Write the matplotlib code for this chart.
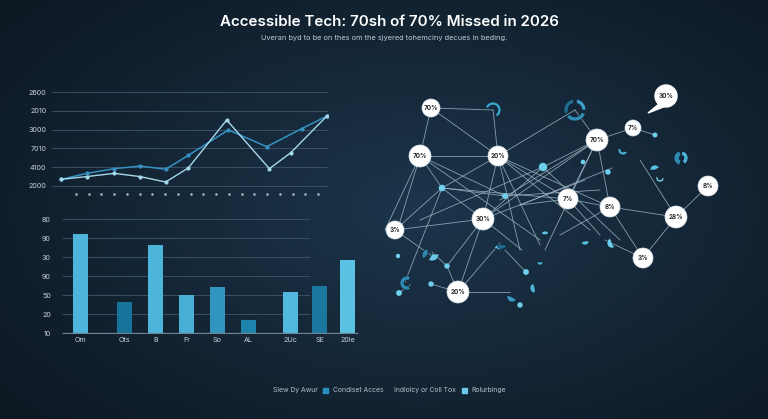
import numpy as np
import matplotlib
matplotlib.use("Agg")
import matplotlib.pyplot as plt
from matplotlib.patches import Circle, Wedge, Polygon, Rectangle

plt.rcParams['font.family'] = ['Inter', 'DejaVu Sans']

W, H = 768, 419

title = "Accessible Tech: 70sh of 70% Missed in 2026"
subtitle = "Uveran byd to be on thes om the sjyered tohemciny decues in beding."

# line chart (y in gridline units)
line_ticks = ["2000", "4100", "7010", "3000", "2010", "2600"]
dot_x = list(range(1, 21))
dark_x = [-0.18, 1.84, 4.01, 6.03, 8.04, 9.82, 12.96, 15.97, 18.72, 20.69]
dark_y = [0.35, 0.67, 0.92, 1.06, 0.89, 1.63, 2.98, 2.09, 3.05, 3.72]
light_x = [-0.18, 1.84, 4.01, 6.03, 8.04, 9.82, 12.83, 16.18, 17.86, 20.69]
light_y = [0.35, 0.50, 0.67, 0.50, 0.21, 0.96, 3.51, 0.92, 1.77, 3.72]

# bar chart (y in gridline units)
bar_labels = ["Om", "Ots", "B", "Fr", "So", "AL", "2Uc", "SE", "20le"]
bar_pos = [0, 1.4, 2.4, 3.4, 4.4, 5.4, 6.75, 7.7, 8.6]
bar_vals = [5.21, 1.63, 4.63, 2.0, 2.42, 0.68, 2.16, 2.47, 3.84]
bar_colors = ["#4db4da", "#18739b", "#4db4da", "#4aafd6", "#3295bf",
              "#1f84ad", "#52b8dd", "#1a789f", "#5bc2e3"]
bar_ticks = ["10", "20", "50", "90", "30", "90", "80"]

# network
node_x = [431, 420, 498, 633, 597, 568, 610, 708, 676, 643, 483, 395, 458]
node_y = [108, 156, 156, 128, 140, 199, 207, 186, 217, 258, 219, 230, 292]
node_r = [9, 11, 10, 8, 11, 10, 10, 10, 11, 10, 11, 9, 11]
node_labels = ["70%", "70%", "20%", "7%", "70%", "7%", "8%", "8%", "28%",
               "3%", "30%", "3%", "20%"]
bubble = (666, 96, 11, "30%")
bubble_tail_x = [659, 666, 648]
bubble_tail_y = [104, 106, 113]

dot_nx = [543, 442, 505, 583, 608, 447, 431, 399, 526, 655, 398, 520]
dot_ny = [167, 188, 196, 162, 172, 266, 284, 293, 272, 135, 256, 305]
dot_nr = [3.5, 2.6, 2.2, 1.6, 2.0, 2.0, 2.0, 2.2, 2.2, 1.8, 1.5, 2.0]

edges = [
    (431, 108, 420, 156), (431, 108, 493, 110), (431, 108, 498, 156),
    (420, 156, 498, 156), (420, 156, 442, 188), (420, 156, 398, 228),
    (420, 156, 505, 196), (420, 156, 540, 240), (498, 156, 493, 110),
    (498, 156, 575, 110), (498, 156, 442, 188), (498, 156, 568, 199),
    (498, 156, 610, 207), (498, 156, 483, 219), (498, 156, 540, 245),
    (498, 156, 520, 250), (543, 167, 597, 140), (543, 167, 483, 219),
    (543, 167, 420, 220), (597, 140, 568, 199), (597, 140, 610, 207),
    (597, 140, 575, 110), (597, 140, 633, 128), (597, 140, 483, 219),
    (597, 140, 545, 250), (597, 140, 500, 200), (633, 128, 655, 135),
    (610, 207, 676, 217), (610, 207, 643, 258), (610, 207, 568, 199),
    (610, 207, 560, 235), (676, 217, 708, 186), (676, 217, 643, 258),
    (676, 217, 640, 160), (483, 219, 395, 230), (483, 219, 458, 292),
    (483, 219, 442, 188), (483, 219, 447, 266), (483, 219, 522, 250),
    (483, 219, 585, 180), (395, 230, 442, 188), (395, 230, 432, 256),
    (447, 266, 458, 292), (447, 266, 432, 252), (458, 292, 431, 284),
    (458, 292, 500, 243), (458, 292, 510, 292), (643, 258, 605, 240),
    (568, 199, 520, 205), (442, 188, 568, 199), (442, 188, 505, 196),
    (442, 188, 405, 282), (505, 196, 600, 190), (520, 205, 612, 168),
    (399, 293, 410, 285), (526, 272, 505, 250), (543, 167, 620, 240),
    (568, 199, 600, 235), (420, 156, 385, 230), (498, 156, 590, 230),
]

shards = [  # x, y, r, theta1, theta2, width, color
    (575, 110, 11, 20, 140, 4, "#2f8fb8"), (575, 110, 11, 160, 260, 4, "#1f6e92"),
    (575, 110, 11, 280, 360, 4, "#3aa0c8"), (493, 110, 8, 200, 60, 3, "#3aa6cf"),
    (432, 254, 7, 0, 120, 7, "#6cc7e6"), (428, 255, 6, 140, 270, 5, "#2d85aa"),
    (407, 283, 7, 60, 300, 4, "#2d8ab0"), (500, 250, 6, 200, 340, 6, "#5cc0e3"),
    (502, 244, 5, 20, 170, 4, "#1e6c90"), (535, 288, 5, 90, 250, 5, "#4fb5da"),
    (540, 262, 3, 0, 180, 3, "#4fb5da"), (623, 150, 5, 30, 200, 3, "#4aa8cf"),
    (681, 158, 7, 100, 260, 5, "#2f8ab2"), (681, 158, 7, 280, 60, 4, "#4db2d8"),
    (655, 170, 5, 180, 330, 5, "#59c0e2"), (612, 243, 5, 60, 250, 5, "#6dd0ec"),
    (585, 241, 4, 0, 160, 4, "#5cc4e6"), (545, 235, 4, 200, 340, 4, "#5cc4e6"),
    (512, 297, 5, 30, 200, 5, "#3a9ac2"), (660, 178, 4, 0, 200, 2, "#7fd6ef"),
]

fig = plt.figure(figsize=(W / 100, H / 100), dpi=100)

# background gradient
bg = fig.add_axes([0, 0, 1, 1], zorder=-10)
yy, xx = np.mgrid[0:1:200j, 0:1:360j]
d = np.sqrt(((xx - 0.55) / 0.75) ** 2 + ((yy - 0.5) / 0.8) ** 2)
d = np.clip(d, 0, 1)
c_in = np.array([0x1c, 0x35, 0x4b]) / 255
c_out = np.array([0x0c, 0x16, 0x20]) / 255
img = c_in[None, None, :] * (1 - d[..., None]) + c_out[None, None, :] * d[..., None]
bg.imshow(img, aspect='auto', extent=[0, 1, 0, 1])
bg.axis('off')

fig.text(0.507, 1 - 22 / H, title, ha='center', va='center', color='white',
         fontsize=10.9, fontweight='semibold')
fig.text(0.5, 1 - 38 / H, subtitle, ha='center', va='center', color='#c2ccd4',
         fontsize=5.3)

grid_c = '#3b5163'
tick_c = '#c8d0d8'

# line chart
ax1 = fig.add_axes([52 / W, 1 - 198 / H, (328 - 52) / W, (198 - 86) / H])
ax1.set_facecolor('none')
ax1.set_xlim(-0.88, 20.78)
ax1.set_ylim(-0.64, 5.32)
ax1.hlines(range(6), -0.88, 20.78, color=grid_c, lw=0.7, zorder=1)
ax1.plot(dark_x, dark_y, color='#3591c2', lw=1.1, marker='o', ms=2.0, zorder=3)
ax1.plot(light_x, light_y, color='#a6d9ea', lw=1.0, marker='o', ms=2.0, zorder=3)
ax1.scatter(dot_x, [-0.43] * len(dot_x), s=0.8, color='#9fb2c0', zorder=2)
ax1.set_yticks(range(6))
ax1.set_yticklabels(line_ticks)
ax1.set_xticks([])
ax1.tick_params(axis='y', length=0, pad=4, labelsize=5.2, labelcolor=tick_c)
for s in ax1.spines.values():
    s.set_visible(False)

# bar chart
ax2 = fig.add_axes([62 / W, 1 - 334 / H, (360 - 62) / W, (334 - 212) / H])
ax2.set_facecolor('none')
ax2.set_xlim(-0.61, 9.0)
ax2.set_ylim(-0.05, 6.37)
ax2.hlines(range(1, 7), -0.61, 7.39, color=grid_c, lw=0.7, zorder=1)
ax2.hlines(0, -0.61, 8.95, color='#6f8494', lw=0.9, zorder=3)
ax2.bar(bar_pos, bar_vals, width=0.48, color=bar_colors, zorder=2)
ax2.set_yticks(range(7))
ax2.set_yticklabels(bar_ticks)
ax2.set_xticks(bar_pos)
ax2.set_xticklabels(bar_labels)
ax2.tick_params(axis='y', length=0, pad=8, labelsize=5.2, labelcolor=tick_c)
ax2.tick_params(axis='x', length=0, pad=2.5, labelsize=5.2, labelcolor=tick_c)
for s in ax2.spines.values():
    s.set_visible(False)

# network
ax3 = fig.add_axes([375 / W, 1 - 325 / H, 370 / W, 250 / H])
ax3.set_facecolor('none')
ax3.set_xlim(375, 745)
ax3.set_ylim(325, 75)
ax3.axis('off')
for x1, y1, x2, y2 in edges:
    ax3.plot([x1, x2], [y1, y2], color='#9bb4c4', lw=0.6, alpha=0.85, zorder=1)
for x, y, r, t1, t2, w, c in shards:
    ax3.add_patch(Wedge((x, y), r, t1, t2, width=w, facecolor=c,
                        edgecolor='#0e1c28', lw=0.4, zorder=2))
for x, y, r in zip(dot_nx, dot_ny, dot_nr):
    ax3.add_patch(Circle((x, y), r, color='#6fd0ec', zorder=3))
ax3.add_patch(Polygon(list(zip(bubble_tail_x, bubble_tail_y)), color='white', zorder=4))
bx, by, br, bl = bubble
ax3.add_patch(Circle((bx, by), br, color='white', zorder=4))
ax3.text(bx, by, bl, ha='center', va='center', fontsize=4.6,
         fontweight='bold', color='#2a2a2a', zorder=5)
for x, y, r, lab in zip(node_x, node_y, node_r, node_labels):
    ax3.add_patch(Circle((x, y), r, facecolor='white', edgecolor='#d8e2e8',
                         lw=0.5, zorder=4))
    ax3.text(x, y, lab, ha='center', va='center', fontsize=4.6,
             fontweight='bold', color='#2a2a2a', zorder=5)

# legend
leg_c = '#b3bfc8'
fig.text(273 / W, 1 - 390 / H, "Slew Dy Awur", fontsize=4.9, color=leg_c, va='center')
fig.patches.append(Rectangle((323 / W, 1 - 393 / H), 5 / W, 5 / H,
                             transform=fig.transFigure, color='#2a8fbf'))
fig.text(333 / W, 1 - 390 / H, "Condiset Acces", fontsize=4.9, color=leg_c, va='center')
fig.text(394 / W, 1 - 390 / H, "Indiolcy or Coll Tox", fontsize=4.9, color=leg_c, va='center')
fig.patches.append(Rectangle((462 / W, 1 - 393 / H), 5 / W, 5 / H,
                             transform=fig.transFigure, color='#6cc8ea'))
fig.text(471 / W, 1 - 390 / H, "Rolurbinge", fontsize=4.9, color=leg_c, va='center')

fig.savefig("out.png", dpi=100)
